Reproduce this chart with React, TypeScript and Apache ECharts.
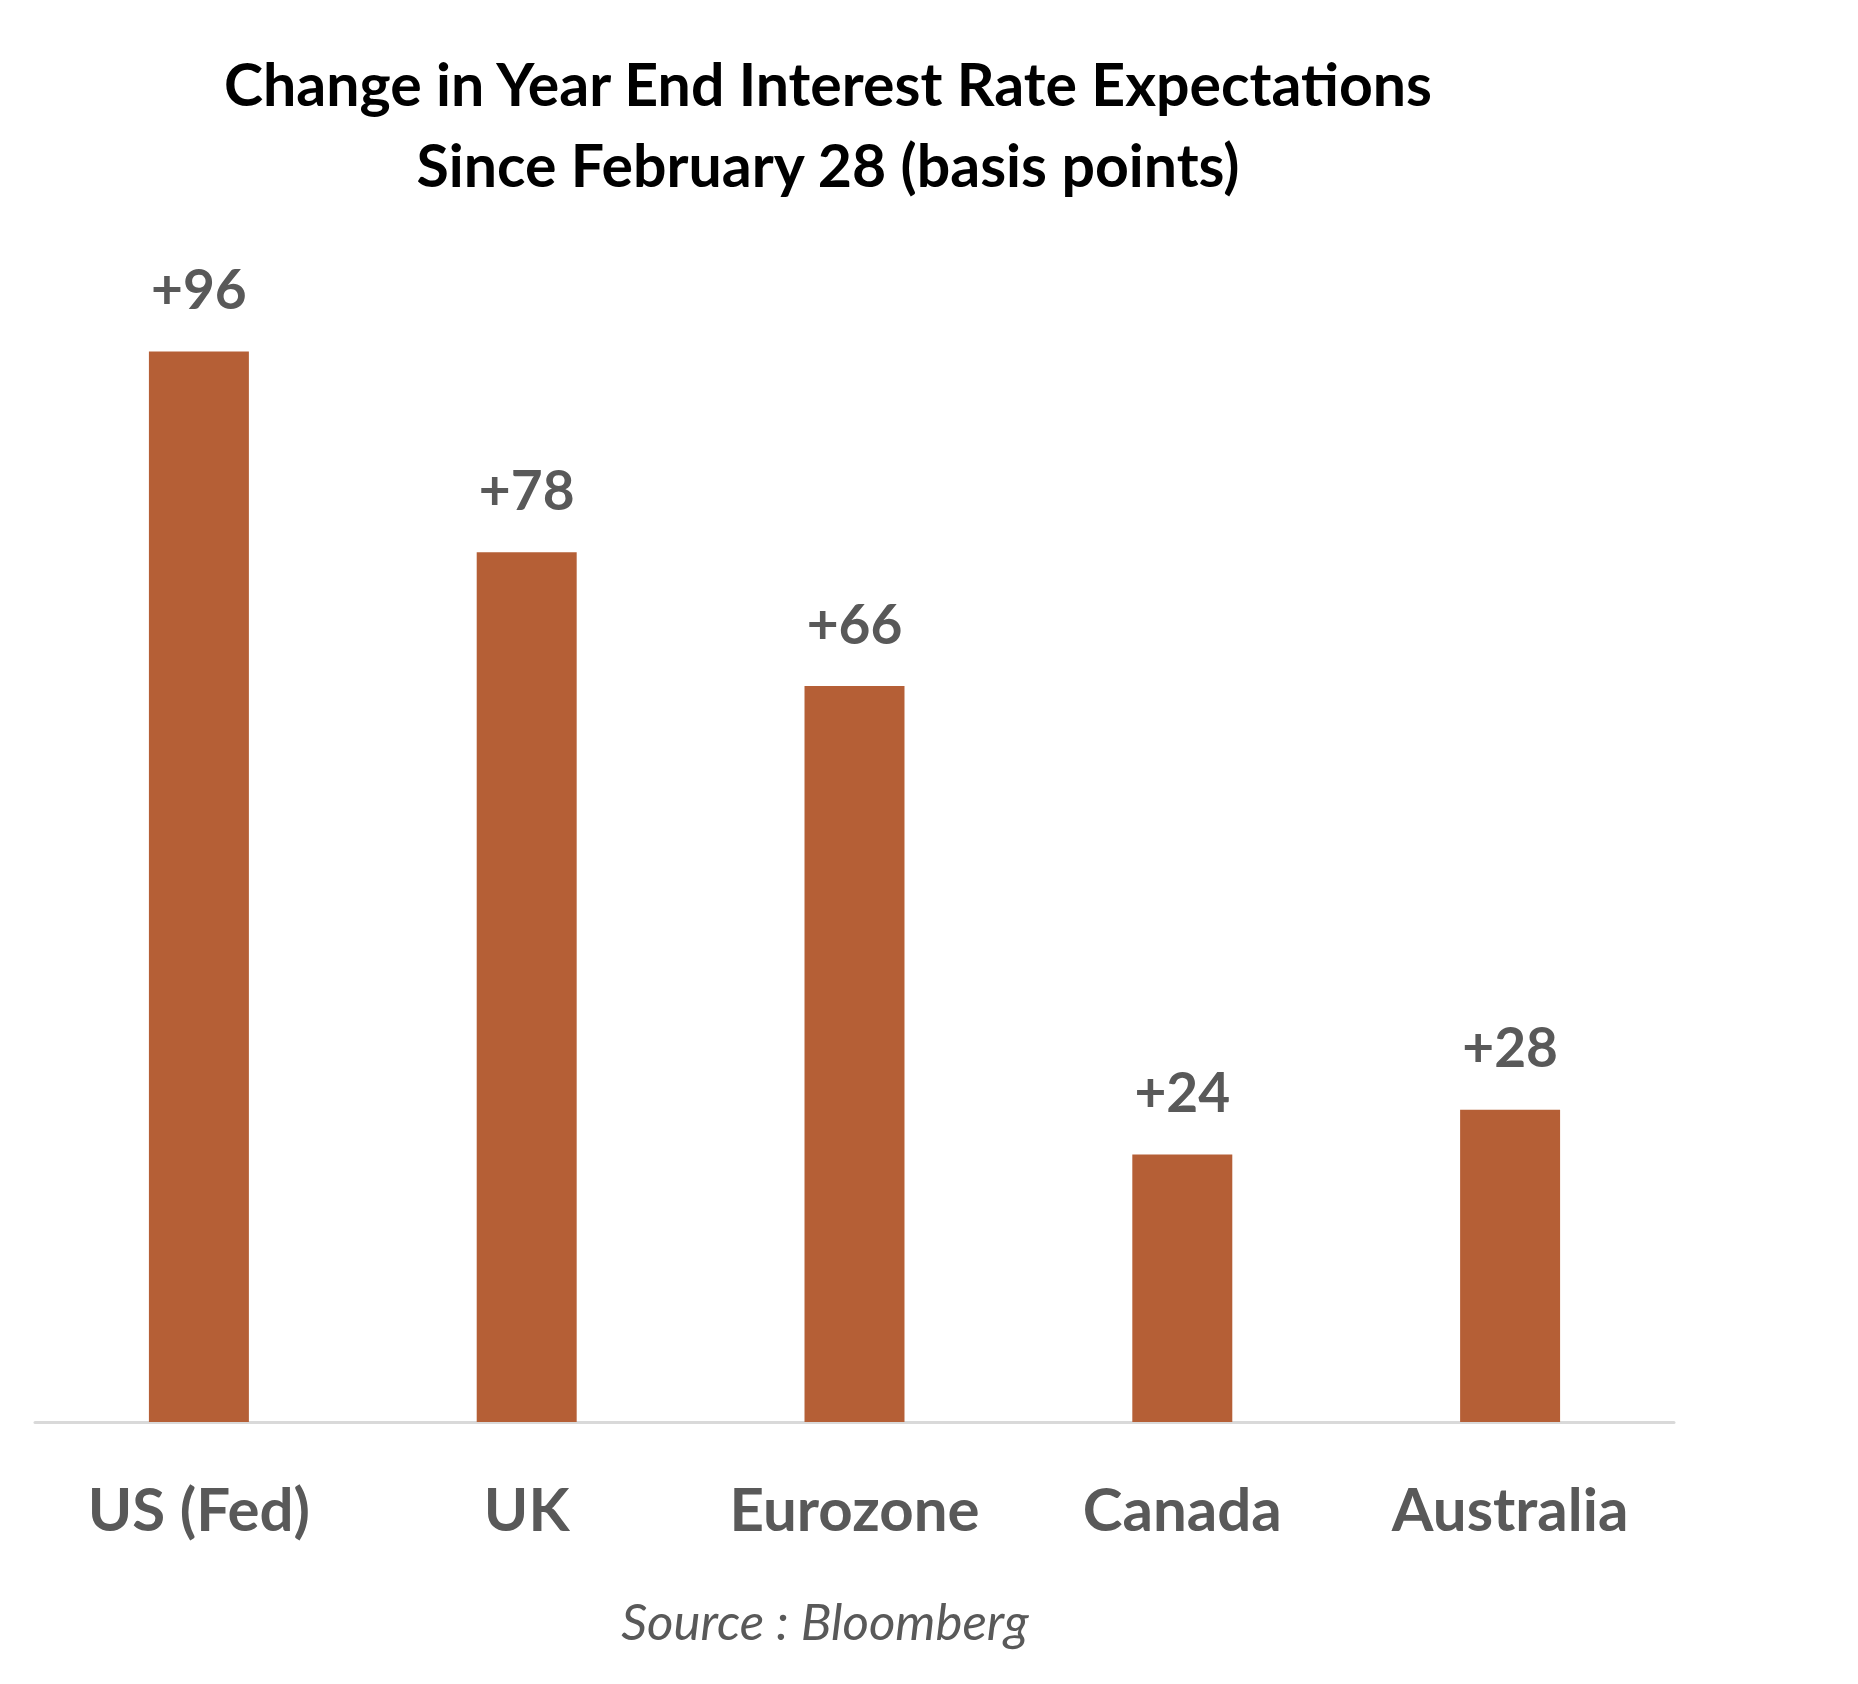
import React, { useEffect, useRef } from "react";
import * as echarts from "echarts";

const categories = ["US (Fed)", "UK", "Eurozone", "Canada", "Australia"];
const values = [96, 78, 66, 24, 28];
const titleLines = ["Change in Year End Interest Rate Expectations", "Since February 28 (basis points)"];
const sourceText = "Source : Bloomberg";

const FONT = "Lato, 'Open Sans', sans-serif";

export default function App() {
  const ref = useRef<HTMLDivElement>(null);
  useEffect(() => {
    document.body.style.margin = "0";
    const chart = echarts.init(ref.current!, null, { renderer: "svg" });
    chart.setOption({
      animation: false,
      backgroundColor: "#ffffff",
      grid: { left: 35, right: 184, top: 307, bottom: 262, containLabel: false },
      xAxis: {
        type: "category",
        data: categories,
        axisLine: { show: true, lineStyle: { color: "#d9d9d9", width: 3 } },
        axisTick: { show: false },
        axisLabel: {
          color: "#595959",
          fontFamily: FONT,
          fontWeight: "bold",
          fontSize: 60,
          margin: 56,
        },
      },
      yAxis: {
        type: "value",
        min: 0,
        max: 100,
        show: false,
        splitLine: { show: false },
      },
      series: [
        {
          type: "bar",
          data: values,
          barWidth: "30.5%",
          itemStyle: { color: "#b55f36" },
          label: {
            show: true,
            position: "top",
            distance: 36,
            color: "#595959",
            fontFamily: FONT,
            fontWeight: "bold",
            fontSize: 55,
            formatter: (p: any) => "+" + p.value,
          },
        },
      ],
      graphic: [
        {
          type: "text",
          x: 828,
          y: 83,
          style: {
            text: titleLines[0],
            fill: "#000000",
            font: `bold 59px ${FONT}`,
            textAlign: "center",
            textVerticalAlign: "middle",
          },
        },
        {
          type: "text",
          x: 828,
          y: 164,
          style: {
            text: titleLines[1],
            fill: "#000000",
            font: `bold 59px ${FONT}`,
            textAlign: "center",
            textVerticalAlign: "middle",
          },
        },
        {
          type: "text",
          x: 825,
          y: 1620,
          style: {
            text: sourceText,
            fill: "#595959",
            font: `italic 51px ${FONT}`,
            textAlign: "center",
            textVerticalAlign: "middle",
          },
        },
      ],
    });
    return () => chart.dispose();
  }, []);
  return <div ref={ref} style={{ width: 1858, height: 1684 }} />;
}
